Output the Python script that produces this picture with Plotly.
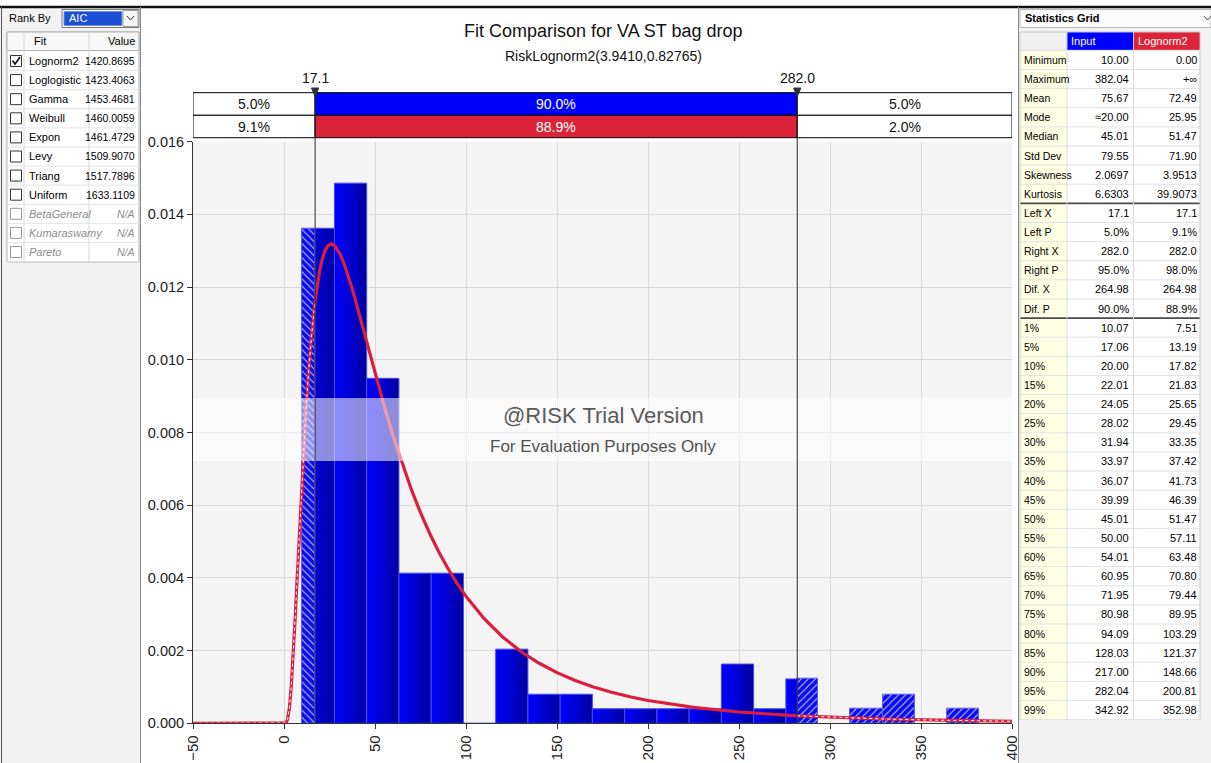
import plotly.graph_objects as go

W, H = 1211, 763

# ---------------- data ----------------
bin_edges = [10.0, 27.716, 45.432, 63.149, 80.865, 98.581, 116.297, 134.013, 151.730, 169.446,
             187.162, 204.878, 222.594, 240.311, 258.027, 275.743, 293.459, 311.175, 328.892,
             346.608, 364.324, 382.040]
bin_density = [0.01362, 0.01486, 0.00949, 0.00413, 0.00413, 0.0, 0.00204, 0.00080, 0.00080,
               0.00040, 0.00040, 0.00040, 0.00040, 0.00163, 0.00040, 0.00122, 0.0, 0.00040,
               0.00080, 0.0, 0.00040]

curve_x = [-50, 0, 1, 2, 3, 4, 5, 6, 7, 8, 9, 10, 11, 12, 13.5, 15, 17.1, 18, 19.5, 21, 22.5,
           24, 26, 28, 31, 33, 35, 37.5, 40, 45, 50, 55, 60, 65, 70, 75, 80, 85, 90, 95, 100,
           110, 120, 130, 140, 150, 160, 170, 180, 190, 200, 225, 250, 282, 300, 330, 360, 400]
curve_y = [0, 0, 0.000006, 0.000109, 0.000441, 0.001028, 0.001824, 0.002759, 0.003770,
           0.004801, 0.005820, 0.006794, 0.007707, 0.008546, 0.009660, 0.010595, 0.011619,
           0.011964, 0.012429, 0.012767, 0.012997, 0.013132, 0.013191, 0.013135, 0.012889,
           0.012645, 0.012355, 0.011947, 0.011504, 0.010572, 0.009635, 0.008736, 0.007897,
           0.007127, 0.006427, 0.005795, 0.005228, 0.004719, 0.004264, 0.003857, 0.003493,
           0.002876, 0.002381, 0.001982, 0.001658, 0.001394, 0.001178, 0.001000, 0.000853,
           0.000731, 0.000628, 0.000438, 0.000311, 0.000207, 0.000166, 0.000118, 0.000085,
           0.000056]

left_x, right_x = 17.1, 282.0
left_x_label, right_x_label = "17.1", "282.0"
input_probs = ["5.0%", "90.0%", "5.0%"]
fit_probs = ["9.1%", "88.9%", "2.0%"]

title_text = "Fit Comparison for VA ST bag drop"
subtitle_text = "RiskLognorm2(3.9410,0.82765)"

fit_names = ["Lognorm2", "Loglogistic", "Gamma", "Weibull", "Expon", "Levy", "Triang",
             "Uniform", "BetaGeneral", "Kumaraswamy", "Pareto"]
fit_aic = ["1420.8695", "1423.4063", "1453.4681", "1460.0059", "1461.4729", "1509.9070",
           "1517.7896", "1633.1109", "N/A", "N/A", "N/A"]
fit_available = [True] * 8 + [False] * 3

stat_labels = ["Minimum", "Maximum", "Mean", "Mode", "Median", "Std Dev", "Skewness", "Kurtosis",
               "Left X", "Left P", "Right X", "Right P", "Dif. X", "Dif. P",
               "1%", "5%", "10%", "15%", "20%", "25%", "30%", "35%", "40%", "45%", "50%",
               "55%", "60%", "65%", "70%", "75%", "80%", "85%", "90%", "95%", "99%"]
stat_input = ["10.00", "382.04", "75.67", "≈20.00", "45.01", "79.55", "2.0697", "6.6303",
              "17.1", "5.0%", "282.0", "95.0%", "264.98", "90.0%",
              "10.07", "17.06", "20.00", "22.01", "24.05", "28.02", "31.94", "33.97", "36.07",
              "39.99", "45.01", "50.00", "54.01", "60.95", "71.95", "80.98", "94.09", "128.03",
              "217.00", "282.04", "342.92"]
stat_fit = ["0.00", "+∞", "72.49", "25.95", "51.47", "71.90", "3.9513", "39.9073",
            "17.1", "9.1%", "282.0", "98.0%", "264.98", "88.9%",
            "7.51", "13.19", "17.82", "21.83", "25.65", "29.45", "33.35", "37.42", "41.73",
            "46.39", "51.47", "57.11", "63.48", "70.80", "79.44", "89.95", "103.29", "121.37",
            "148.66", "200.81", "352.98"]

# ---------------- style ----------------
FONT = "Liberation Sans, Arial, sans-serif"
BLUE = "#0000FF"
RED = "#DC2339"
CURVE = "#DC1E3C"


def X(px):
    return px / W


def Y(py):
    return 1 - py / H


fig = go.Figure()

# ---------------- histogram ----------------
hl = {"x": [], "w": [], "h": []}
hr = {"x": [], "w": [], "h": []}
for e0, e1, h in zip(bin_edges[:-1], bin_edges[1:], bin_density):
    a, b = max(e0, left_x), min(e1, right_x)
    if b > a:
        fig.add_trace(go.Scatter(
            x=[a, a, b, b, a], y=[0, h, h, 0, 0], mode="lines", fill="toself",
            fillgradient=dict(type="horizontal", colorscale=[[0, "#0000FF"], [1, "#0000A0"]],
                              start=e0, stop=e1),
            line=dict(color="#4a4af2", width=1), hoverinfo="skip", showlegend=False))
    if e0 < left_x and h > 0:
        b2 = min(e1, left_x)
        hl["x"].append((e0 + b2) / 2); hl["w"].append(b2 - e0); hl["h"].append(h)
    if e1 > right_x and h > 0:
        a2 = max(e0, right_x)
        hr["x"].append((a2 + e1) / 2); hr["w"].append(e1 - a2); hr["h"].append(h)

for d, shp in ((hl, "\\"), (hr, "/")):
    fig.add_trace(go.Bar(
        x=d["x"], y=d["h"], width=d["w"],
        marker=dict(color="#0c0cf0", line=dict(color="#6060f0", width=1),
                    pattern=dict(shape=shp, fgcolor="white", fgopacity=0.85, size=5, solidity=0.18)),
        hoverinfo="skip", showlegend=False))

# ---------------- fitted curve ----------------
segL = [(x, y) for x, y in zip(curve_x, curve_y) if x <= left_x]
segM = [(x, y) for x, y in zip(curve_x, curve_y) if left_x <= x <= right_x]
segR = [(x, y) for x, y in zip(curve_x, curve_y) if x >= right_x]
for seg in (segL, segR):
    xs, ys = zip(*seg)
    fig.add_trace(go.Scatter(x=xs, y=ys, mode="lines", line=dict(color=CURVE, width=3.2),
                             hoverinfo="skip", showlegend=False))
    fig.add_trace(go.Scatter(x=xs, y=ys, mode="lines",
                             line=dict(color="white", width=1, dash="dot"),
                             hoverinfo="skip", showlegend=False))
xs, ys = zip(*segM)
fig.add_trace(go.Scatter(x=xs, y=ys, mode="lines", line=dict(color=CURVE, width=3.2),
                         hoverinfo="skip", showlegend=False))

shapes = []
ann = []


def rect(x0, y0, x1, y1, fill=None, line="#000", lw=1, layer="above", xref="paper"):
    d = dict(type="rect", xref=xref, yref="paper",
             x0=X(x0) if xref == "paper" else x0, x1=X(x1) if xref == "paper" else x1,
             y0=Y(y0), y1=Y(y1), layer=layer,
             line=dict(color=line if line else "rgba(0,0,0,0)", width=lw if line else 0))
    if fill:
        d["fillcolor"] = fill
    shapes.append(d)


def hline(x0, x1, y, color, w=1):
    shapes.append(dict(type="line", xref="paper", yref="paper", x0=X(x0), x1=X(x1),
                       y0=Y(y), y1=Y(y), line=dict(color=color, width=w)))


def vline(x, y0, y1, color, w=1):
    shapes.append(dict(type="line", xref="paper", yref="paper", x0=X(x), x1=X(x),
                       y0=Y(y0), y1=Y(y1), line=dict(color=color, width=w)))


def text(x, y, s, size=11, color="#000", xanchor="left", bold=False, italic=False):
    if bold:
        s = "<b>" + s + "</b>"
    if italic:
        s = "<i>" + s + "</i>"
    ann.append(dict(x=X(x), y=Y(y), xref="paper", yref="paper", text=s,
                    showarrow=False, xanchor=xanchor, yanchor="middle",
                    font=dict(family=FONT, size=size, color=color)))


def path(pts, color, fill=None, w=1):
    p = "M " + " L ".join(f"{X(a):.5f},{Y(b):.5f}" for a, b in pts)
    if fill:
        p += " Z"
    d = dict(type="path", xref="paper", yref="paper", path=p, line=dict(color=color, width=w))
    if fill:
        d["fillcolor"] = fill
    shapes.append(d)


# ---------------- panel backgrounds ----------------
rect(0, 7, 140, 763, fill="#F2F2F2", line=None, layer="below")
rect(1018, 7, 1211, 763, fill="#F2F2F2", line=None, layer="below")
hline(0, 1211, 7, "#111", 2.5)
vline(1.5, 7, 763, "#555", 1)
vline(140.5, 7, 763, "#8a8a8a", 1)
vline(1018.5, 7, 763, "#8a8a8a", 1)

# ---------------- strip boxes ----------------
segs = [(-50, left_x), (left_x, right_x), (right_x, 400)]
rows = [(92.7, 115.3, input_probs, BLUE), (115.3, 137.7, fit_probs, RED)]
for (y0, y1, probs, col) in rows:
    for i, (a, b) in enumerate(segs):
        fill = col if i == 1 else "white"
        rect(a, y0, b, y1, fill=fill, line="#000", lw=1, xref="x")
        ann.append(dict(x=(a + b) / 2, y=Y((y0 + y1) / 2), xref="x", yref="paper",
                        text=probs[i], showarrow=False, xanchor="center", yanchor="middle",
                        font=dict(family=FONT, size=14, color="white" if i == 1 else "#111")))

# watermark band
shapes.append(dict(type="rect", xref="x", yref="paper", x0=-50, x1=400, y0=Y(398), y1=Y(461),
                   fillcolor="white", opacity=0.55, line=dict(width=0), layer="above"))

# marker lines
for xv, lab in ((left_x, left_x_label), (right_x, right_x_label)):
    shapes.append(dict(type="line", xref="x", yref="paper", x0=xv, x1=xv, y0=Y(723.3), y1=Y(93),
                       line=dict(color="#2a2a2a", width=1), layer="above"))
    shapes.append(dict(type="path", xref="x", yref="paper",
                       path=f"M {xv-2.0},{Y(88):.5f} L {xv+2.0},{Y(88):.5f} L {xv},{Y(96.5):.5f} Z",
                       fillcolor="#333", line=dict(color="#333", width=1)))
    ann.append(dict(x=xv, y=Y(78), xref="x", yref="paper", text=lab, showarrow=False,
                    xanchor="center", yanchor="middle", font=dict(family=FONT, size=14, color="#111")))

# titles & watermark text
text(603, 31, title_text, size=18, color="#111", xanchor="center")
text(603, 56, subtitle_text, size=14, color="#111", xanchor="center")
text(603, 415, "@RISK Trial Version", size=22, color="#5a5a5a", xanchor="center")
text(603, 446, "For Evaluation Purposes Only", size=17, color="#505050", xanchor="center")

# ---------------- left panel: fit ranking ----------------
text(7, 18, "Rank By", size=11)
rect(62, 9.5, 139, 27.5, fill="white", line="#7a7a7a")
rect(64, 11.5, 122, 25.5, fill="#1a4fd6", line="#7090e0")
text(67, 18.5, "AIC", size=11, color="white")
rect(123, 10.5, 138, 26.5, fill="#f6f6f6", line="#a0a0a0")
path([(127, 16), (130.5, 20), (134, 16)], "#333", w=1)

rect(7, 32, 139, 262, fill="white", line="#b0b0b0")
rect(7, 32, 139, 50.5, fill="#f7f7f7", line="#b0b0b0")
text(32, 41, "Fit", size=11)
text(137, 41, "Value", size=11, xanchor="right")
vline(24, 32, 262, "#d8d8d8")
vline(89, 32, 262, "#d8d8d8")
for i, (nm, v, ok) in enumerate(zip(fit_names, fit_aic, fit_available)):
    cy = 61 + i * 19.1
    hline(7, 139, cy + 9.55, "#e4e4e4")
    col = "#000" if ok else "#8c8c8c"
    rect(10.5, cy - 5.5, 21.5, cy + 5.5, fill="white", line="#333" if ok else "#999")
    if i == 0:
        path([(12.5, cy - 0.5), (15, cy + 3), (20, cy - 4)], "#111", w=1.6)
    text(27, cy, nm, size=11, color=col, italic=not ok)
    text(137, cy, v, size=10.5, color=col, italic=not ok, xanchor="right")

# ---------------- right panel: statistics grid ----------------
rect(1020, 9.5, 1211, 27.5, fill="#fbfbfb", line="#b8b8b8")
text(1023, 18.5, "Statistics Grid", size=11, bold=True)
path([(1204, 16), (1207.5, 20), (1211, 16)], "#555", w=1)

rect(1020, 32, 1067, 50.4, fill="#f0f0f0", line="#c8c8c8")
rect(1067, 32, 1133.5, 50.4, fill=BLUE, line="#c8c8c8")
rect(1133.5, 32, 1200, 50.4, fill=RED, line="#c8c8c8")
text(1069, 41.5, "Input", size=11, color="white")
text(1136, 41.5, "Lognorm2", size=11, color="white")

n = len(stat_labels)
top, step = 50.4, 19.12
rect(1020, top, 1067, top + n * step, fill="#FFFFE3", line=None)
rect(1067, top, 1200, top + n * step, fill="white", line=None)
for i in range(n + 1):
    yb = top + i * step
    if i in (8, 14):
        hline(1020, 1200, yb, "#4a4a4a", 1.6)
    else:
        hline(1020, 1200, yb, "#e2e2e2")
vline(1020, top, top + n * step, "#c8c8c8")
vline(1067, top, top + n * step, "#dcdcdc")
vline(1133.5, top, top + n * step, "#dcdcdc")
vline(1200, top, top + n * step, "#c8c8c8")
for i, (lab, a, b) in enumerate(zip(stat_labels, stat_input, stat_fit)):
    cy = top + (i + 0.5) * step
    text(1022, cy, lab, size=10.5)
    text(1131, cy, a, size=11, xanchor="right")
    text(1199, cy, b, size=11, xanchor="right")

# ---------------- layout ----------------
fig.update_layout(
    width=W, height=H, margin=dict(l=0, r=0, t=0, b=0),
    paper_bgcolor="white", plot_bgcolor="#F4F4F4",
    barmode="overlay", bargap=0, showlegend=False,
    font=dict(family=FONT, size=14, color="#222"),
    xaxis=dict(domain=[X(193), X(1012)], range=[-50, 400], dtick=50, tick0=0,
               tickangle=-90, ticks="outside", ticklen=5, tickcolor="#333",
               showline=True, linecolor="#333", linewidth=1,
               showgrid=True, gridcolor="#DADADA", zeroline=False, automargin=False,
               tickfont=dict(family=FONT, size=15, color="#222")),
    yaxis=dict(domain=[Y(723.3), Y(141.7)], range=[0, 0.016], dtick=0.002, tick0=0,
               tickformat=".3f", ticks="outside", ticklen=5, tickcolor="#333",
               showline=True, linecolor="#333", linewidth=1,
               showgrid=True, gridcolor="#DADADA", zeroline=False, automargin=False,
               tickfont=dict(family=FONT, size=14.5, color="#222")),
    shapes=shapes, annotations=ann,
)

fig.write_html("out.html")
